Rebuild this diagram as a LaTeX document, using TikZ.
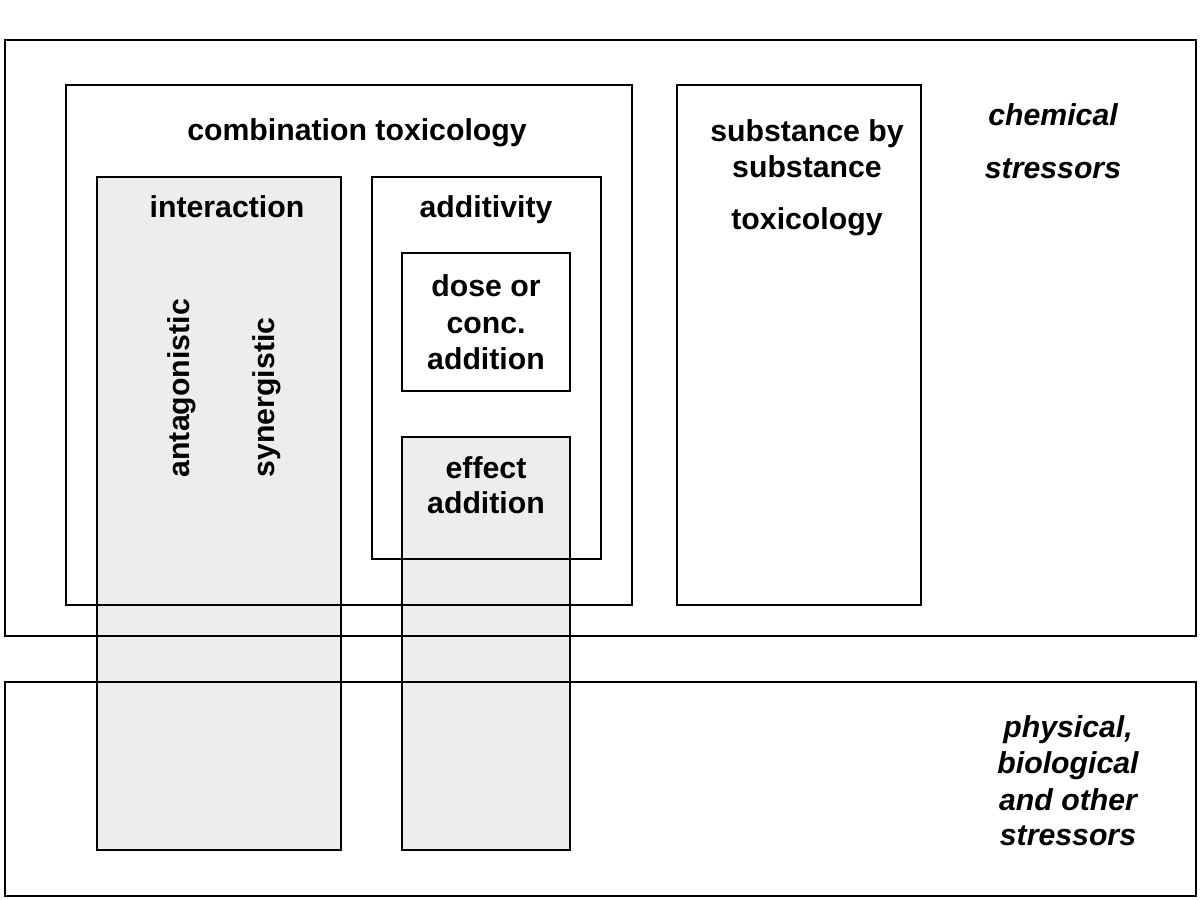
\documentclass[tikz,border=0pt]{standalone}
\usepackage{fontspec}
\setmainfont{Liberation Sans}
\begin{document}
\begin{tikzpicture}[x=0.01cm,y=-0.01cm,
  box/.style={draw=black,line width=0.7pt},
  grayfill/.style={fill=black!7,draw=none},
  lbl/.style={font=\fontsize{8.6}{10.3}\selectfont\bfseries,inner sep=0pt,anchor=base},
  ilbl/.style={font=\fontsize{8.6}{10.3}\selectfont\bfseries\itshape,inner sep=0pt,anchor=base},
  vlbl/.style={font=\fontsize{8.6}{10.3}\selectfont\bfseries,inner sep=0pt,rotate=90,anchor=base west}]
\useasboundingbox[fill=white] (0,0) rectangle (1200,900);
% gray fills first
\fill[grayfill] (97,177) rectangle (341,850);
\fill[grayfill] (402,437) rectangle (570,850);
% outlines
\draw[box] (5,40) rectangle (1196,636);
\draw[box] (5,682) rectangle (1196,896);
\draw[box] (66,85) rectangle (632,605);
\draw[box] (677,85) rectangle (921,605);
\draw[box] (372,177) rectangle (601,559);
\draw[box] (402,253) rectangle (570,391);
\draw[box] (97,177) rectangle (341,850);
\draw[box] (402,437) rectangle (570,850);
% texts
\node[lbl] (ct) at (357,140) {combination toxicology};
\node[lbl] (inter) at (227,217) {interaction};
\node[lbl] (addi) at (486,217) {additivity};
\node[lbl] (dose1) at (486,296) {dose or};
\node[lbl] (dose2) at (486,333) {conc.};
\node[lbl] (dose3) at (486,369) {addition};
\node[lbl] (eff1) at (486,478) {effect};
\node[lbl] (eff2) at (486,513) {addition};
\node[lbl] (sub1) at (807,141) {substance by};
\node[lbl] (sub2) at (807,177) {substance};
\node[lbl] (sub3) at (807,229) {toxicology};
\node[ilbl] (chem1) at (1053,125) {chemical};
\node[ilbl] (chem2) at (1053,178) {stressors};
\node[ilbl] (phys1) at (1068,737) {physical,};
\node[ilbl] (phys2) at (1068,773) {biological};
\node[ilbl] (phys3) at (1068,810) {and other};
\node[ilbl] (phys4) at (1068,845) {stressors};
\node[vlbl] (ant) at (189,478) {antagonistic};
\node[vlbl] (syn) at (274,478) {synergistic};
\end{tikzpicture}
\end{document}
